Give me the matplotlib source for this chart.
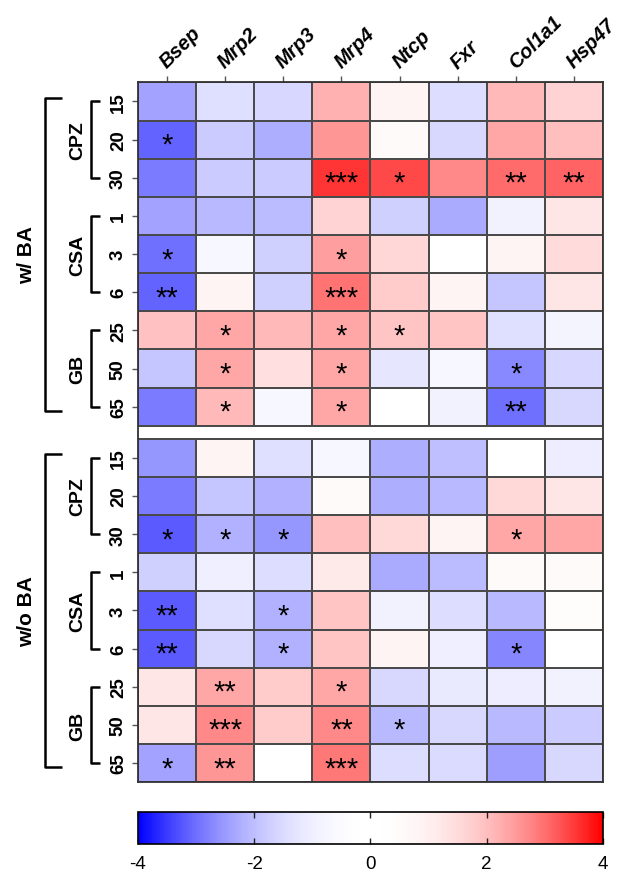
import numpy as np
import matplotlib
matplotlib.use("Agg")
import matplotlib.pyplot as plt
from matplotlib.colors import ListedColormap, Normalize
from matplotlib.transforms import blended_transform_factory

plt.rcParams['font.family'] = ['Liberation Sans', 'DejaVu Sans']
plt.rcParams['axes.unicode_minus'] = False

genes = ['Bsep', 'Mrp2', 'Mrp3', 'Mrp4', 'Ntcp', 'Fxr', 'Col1a1', 'Hsp47']
drugs = ['CPZ', 'CSA', 'GB']
doses = ['15', '20', '30', '1', '3', '6', '25', '50', '65']
conditions = ['w/ BA', 'w/o BA']

# log2 fold change, rows follow doses
vals_wba = [
    [-2.4, -1.4, -1.6, 2.2, 0.8, -1.45, 2.1, 1.65],
    [-3.1, -1.8, -2.25, 2.55, 0.55, -1.55, 2.35, 2.0],
    [-2.85, -1.8, -1.8, 3.55, 3.35, 2.7, 3.05, 3.1],
    [-2.4, -2.1, -2.05, 1.65, -1.7, -2.3, -0.9, 1.25],
    [-3.0, -0.7, -1.7, 2.45, 1.6, 0.0, 0.8, 1.5],
    [-3.1, 0.8, -1.7, 2.95, 1.8, 0.8, -1.9, 1.25],
    [1.95, 2.35, 2.1, 2.35, 1.9, 1.9, -1.4, -0.8],
    [-1.9, 2.35, 1.4, 2.35, -1.25, -0.7, -2.7, -1.6],
    [-2.85, 2.1, -0.7, 2.35, 0.0, -0.9, -3.0, -1.55],
]
vals_woba = [
    [-2.55, 0.8, -1.4, -0.7, -2.25, -2.0, 0.1, -1.05],
    [-2.85, -1.9, -2.2, 0.55, -2.25, -2.1, 1.55, 1.25],
    [-3.2, -2.2, -2.55, 2.0, 1.55, 0.8, 2.35, 2.35],
    [-1.7, -1.0, -1.45, 1.15, -2.3, -2.05, 0.55, 0.55],
    [-3.2, -1.4, -2.2, 1.9, -0.9, -1.45, -2.1, 0.4],
    [-3.2, -1.55, -2.2, 1.9, 0.8, -1.0, -2.75, 0.0],
    [1.25, 2.35, 1.8, 2.35, -1.55, -1.15, -1.05, -0.9],
    [1.25, 2.7, 1.8, 2.7, -2.1, -1.55, -2.1, -1.8],
    [-2.4, 2.55, 0.0, 2.9, -1.45, -1.5, -2.45, -1.55],
]
stars_wba = [
    ['', '', '', '', '', '', '', ''],
    ['*', '', '', '', '', '', '', ''],
    ['', '', '', '***', '*', '', '**', '**'],
    ['', '', '', '', '', '', '', ''],
    ['*', '', '', '*', '', '', '', ''],
    ['**', '', '', '***', '', '', '', ''],
    ['', '*', '', '*', '*', '', '', ''],
    ['', '*', '', '*', '', '', '*', ''],
    ['', '*', '', '*', '', '', '**', ''],
]
stars_woba = [
    ['', '', '', '', '', '', '', ''],
    ['', '', '', '', '', '', '', ''],
    ['*', '*', '*', '', '', '', '*', ''],
    ['', '', '', '', '', '', '', ''],
    ['**', '', '*', '', '', '', '', ''],
    ['**', '', '*', '', '', '', '*', ''],
    ['', '**', '', '*', '', '', '', ''],
    ['', '***', '', '**', '*', '', '', ''],
    ['*', '**', '', '***', '', '', '', ''],
]

# blue-white-red with a wide pale middle
t = np.linspace(-1, 1, 257)
f = t ** 2
cols = np.where(t[:, None] < 0,
                np.column_stack([1 - f, 1 - f, np.ones_like(f)]),
                np.column_stack([np.ones_like(f), 1 - f, 1 - f]))
cmap = ListedColormap(cols)
norm = Normalize(-4, 4)

fig = plt.figure(figsize=(6.33, 8.78), dpi=100)
ax = fig.add_axes([0.218, 0.108, 0.7346, 0.797])

gap = 0.34
nrow = len(doses)
xe = np.arange(len(genes) + 1)
offsets = [0, nrow + gap]
blocks = [(vals_wba, stars_wba), (vals_woba, stars_woba)]
for off, (v, s) in zip(offsets, blocks):
    ye = off + np.arange(nrow + 1)
    ax.pcolormesh(xe, ye, np.array(v), cmap=cmap, norm=norm,
                  edgecolors='#4a4a4a', linewidth=1.2)
    for i in range(nrow):
        for j in range(len(genes)):
            if s[i][j]:
                ax.text(j + 0.5, off + i + 0.84, s[i][j], ha='center', va='baseline',
                        fontsize=21, color='black')

ax.set_xlim(0, len(genes))
ax.set_ylim(2 * nrow + gap, 0)
for sp in ax.spines.values():
    sp.set_linewidth(1.3)
    sp.set_color('#333333')

ax.xaxis.tick_top()
ax.set_xticks(np.arange(len(genes)) + 0.5)
ax.set_xticklabels(genes, rotation=45, ha='left', va='baseline', rotation_mode='anchor',
                   fontsize=14.5, fontweight='bold', fontstyle='italic')
ax.tick_params(axis='x', length=4, width=1, pad=6, color='#555555')

ycent = [off + i + 0.5 for off in offsets for i in range(nrow)]
ax.set_yticks(ycent)
ax.set_yticklabels(doses * 2, rotation=90, va='center', fontsize=13.5, fontweight='bold')
ax.tick_params(axis='y', length=4, width=1, pad=4, color='#555555')

tr = blended_transform_factory(ax.transAxes, ax.transData)
for off, cond in zip(offsets, conditions):
    # inner brackets for each drug
    for k, drug in enumerate(drugs):
        y0 = off + 3 * k + 0.5
        y1 = off + 3 * k + 2.5
        ax.plot([-0.081, -0.101, -0.101, -0.081], [y0, y0, y1, y1], color='black',
                lw=1.8, transform=tr, clip_on=False, solid_capstyle='butt')
        ax.text(-0.13, (y0 + y1) / 2, drug, rotation=90, ha='center', va='center',
                fontsize=14, fontweight='bold', transform=tr)
    y0 = off + 0.4
    y1 = off + nrow - 0.4
    ax.plot([-0.164, -0.2, -0.2, -0.164], [y0, y0, y1, y1], color='black',
            lw=1.8, transform=tr, clip_on=False, solid_capstyle='butt')
    ax.text(-0.24, off + nrow / 2, cond, rotation=90, ha='center', va='center',
            fontsize=15, fontweight='bold', transform=tr)

cax = fig.add_axes([0.218, 0.0376, 0.7346, 0.0364])
sm = plt.cm.ScalarMappable(norm=norm, cmap=cmap)
cb = fig.colorbar(sm, cax=cax, orientation='horizontal', ticks=[-4, -2, 0, 2, 4])
cb.outline.set_linewidth(1.2)
cax.tick_params(axis='x', direction='in', length=4, width=1, labelsize=13.5, pad=8,
                top=True, color='#222222')

fig.savefig('out.png', dpi=100)
